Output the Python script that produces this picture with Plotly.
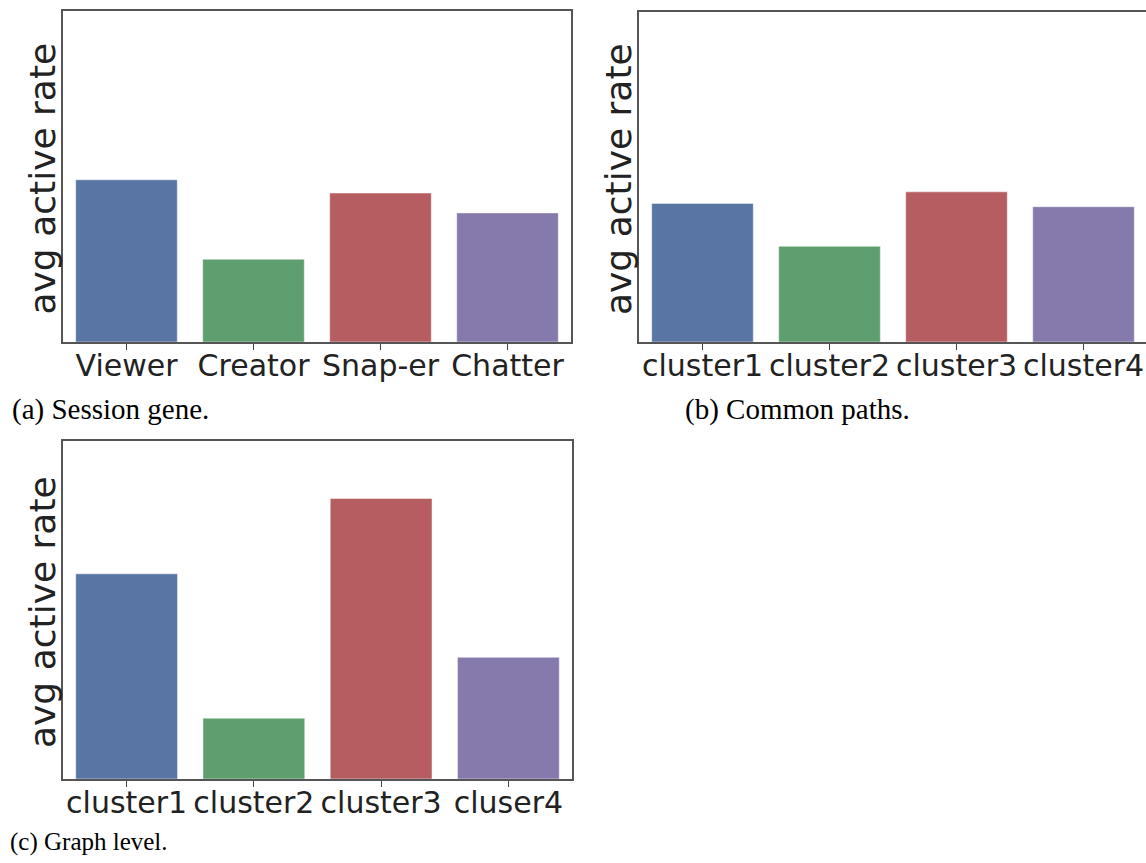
import plotly.graph_objects as go

W, H = 1146, 863

# ---- data (relative heights, axis range 0..1) ----
cats_a = ["Viewer", "Creator", "Snap-er", "Chatter"]
vals_a = [0.49, 0.25, 0.45, 0.39]

cats_b = ["cluster1", "cluster2", "cluster3", "cluster4"]
vals_b = [0.42, 0.29, 0.455, 0.41]

cats_c = ["cluster1", "cluster2", "cluster3", "cluser4"]
vals_c = [0.607, 0.18, 0.83, 0.36]

colors = ["#5975a4", "#5f9e6e", "#b55d60", "#857aab"]
ytitle = "avg active rate"
captions = ["(a) Session gene.", "(b) Common paths.", "(c) Graph level."]


def px_x(p):
    return p / W


def px_y(p):
    return 1 - p / H


fig = go.Figure()

panels = [
    # (cats, vals, xaxis name, yaxis name, left, right, top, bottom, mirror_y, xrange)
    (cats_a, vals_a, "x", "y", 63, 571, 11, 342, True, [-0.5, 3.5]),
    (cats_b, vals_b, "x2", "y2", 639, 1146, 12, 342, False, [-0.5, 3.492]),
    (cats_c, vals_c, "x3", "y3", 63, 572, 441, 779, True, [-0.5, 3.5]),
]

layout_axes = {}
annotations = []
for i, (cats, vals, xa, ya, l, r, t, b, mir, xr) in enumerate(panels):
    fig.add_trace(go.Bar(
        x=cats, y=vals, xaxis=xa, yaxis=ya,
        marker=dict(color=colors, line=dict(color="rgba(255,255,255,0.6)", width=0.8)),
        showlegend=False, hoverinfo="skip",
    ))
    xkey = "xaxis" if xa == "x" else "xaxis" + xa[1:]
    ykey = "yaxis" if ya == "y" else "yaxis" + ya[1:]
    layout_axes[xkey] = dict(
        domain=[px_x(l), min(1.0, px_x(r))], anchor=ya,
        range=xr, type="category",
        showline=True, linecolor="#555555", linewidth=1.5, mirror=True,
        ticks="outside", ticklen=6, tickwidth=1.2, tickcolor="#444444",
        tickfont=dict(family="DejaVu Sans", size=30, color="#222222"),
        ticklabelstandoff=-10,
        showgrid=False, zeroline=False, fixedrange=True,
    )
    layout_axes[ykey] = dict(
        domain=[px_y(b), px_y(t)], anchor=xa,
        range=[0, 1],
        showline=True, linecolor="#555555", linewidth=1.5, mirror=mir,
        showticklabels=False, ticks="", showgrid=False, zeroline=False,
        fixedrange=True,
    )
    annotations.append(dict(
        text=ytitle, textangle=-90, xref="paper", yref="paper",
        x=px_x(l - 21), y=px_y((t + b) / 2 + 2), xanchor="center", yanchor="middle",
        showarrow=False, font=dict(family="DejaVu Sans", size=36, color="#222222"),
    ))

cap_pos = [(10, 428, 29), (683, 428, 29), (8, 858, 25)]
for text, (cx, cy, fs) in zip(captions, cap_pos):
    annotations.append(dict(
        text=text, xref="paper", yref="paper", x=px_x(cx), y=px_y(cy),
        xanchor="left", yanchor="bottom", showarrow=False,
        font=dict(family="Liberation Serif", size=fs, color="#000000"),
    ))

fig.update_layout(
    width=W, height=H,
    margin=dict(l=0, r=0, t=0, b=0),
    paper_bgcolor="white", plot_bgcolor="white",
    bargap=0.2,
    annotations=annotations,
    **layout_axes,
)

fig.write_html(
    "out.html",
    config={"displayModeBar": False},
    post_script="document.body.style.margin='0px';document.body.style.overflow='hidden';",
)
